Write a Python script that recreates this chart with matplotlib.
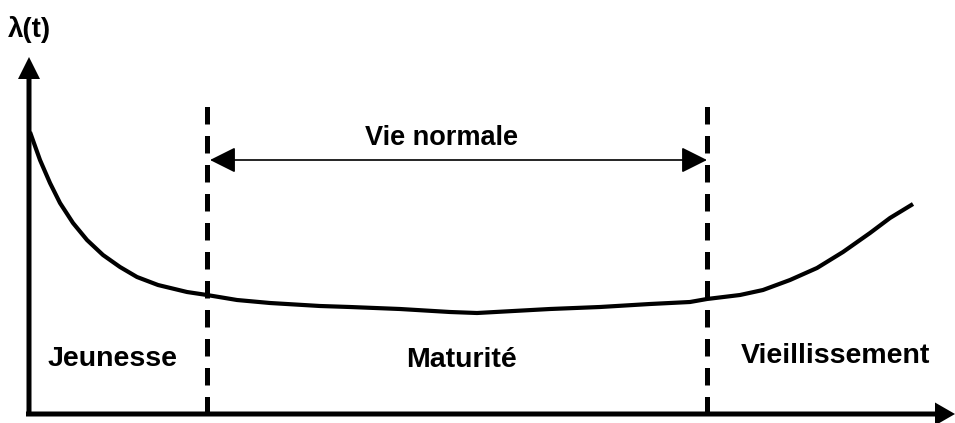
import matplotlib.pyplot as plt
from matplotlib.patches import FancyArrowPatch

# courbe en baignoire (unités arbitraires)
t = [1, 11, 21, 31, 44, 58, 74, 91, 108, 129, 158, 178, 208, 241, 291, 321,
     371, 421, 448, 521, 571, 621, 661, 678, 711, 734, 761, 788, 814, 841,
     861, 884]
lam = [282, 254, 231, 211, 191, 174, 159, 147, 137, 129, 122, 119, 114, 111,
       108, 107, 105, 102, 101, 105, 107, 110, 112, 115, 119, 124, 134, 146,
       162, 181, 196, 210]

bornes = [178, 678]          # limites de la vie normale
phases = ["Jeunesse", "Maturité", "Vieillissement"]
phases_t = [84, 432, 806]
phases_lam = [48, 47, 51]

plt.rcParams["font.family"] = ["Liberation Sans", "DejaVu Sans"]

fig = plt.figure(figsize=(9.55, 4.23), dpi=100)
ax = fig.add_axes([0, 0, 1, 1])
ax.set_xlim(-29, 926)
ax.set_ylim(-9, 414)
ax.axis("off")

# axes avec flèches
ax.arrow(0, -2, 0, 359, width=5, head_width=22, head_length=22,
         length_includes_head=True, color="k", lw=0)
ax.arrow(-3, 0, 929, 0, width=5, head_width=23, head_length=20,
         length_includes_head=True, color="k", lw=0)

# courbe
ax.plot(t, lam, color="k", lw=3, solid_capstyle="butt",
        solid_joinstyle="round")

# limites en pointillés
for b in bornes:
    ax.plot([b, b], [0, 309], color="k", lw=3.6, dashes=(3.5, 2.3))

# flèche vie normale
arr = FancyArrowPatch((bornes[0] + 3, 254), (bornes[1], 254),
                      arrowstyle="<|-|>,head_length=0.8,head_width=0.4",
                      mutation_scale=20, lw=1.2, color="k",
                      shrinkA=0, shrinkB=0)
ax.add_patch(arr)
ax.text((bornes[0] + bornes[1]) / 2 - 16, 269, "Vie normale", ha="center",
        va="baseline", fontsize=19.5, fontweight="bold")

for name, x, y in zip(phases, phases_t, phases_lam):
    ax.text(x, y, name, ha="center", va="baseline", fontsize=20.5,
            fontweight="bold")

ax.text(-21, 377, "λ(t)", ha="left", va="baseline", fontsize=20,
        fontweight="bold")

fig.savefig("out.png", dpi=100)
